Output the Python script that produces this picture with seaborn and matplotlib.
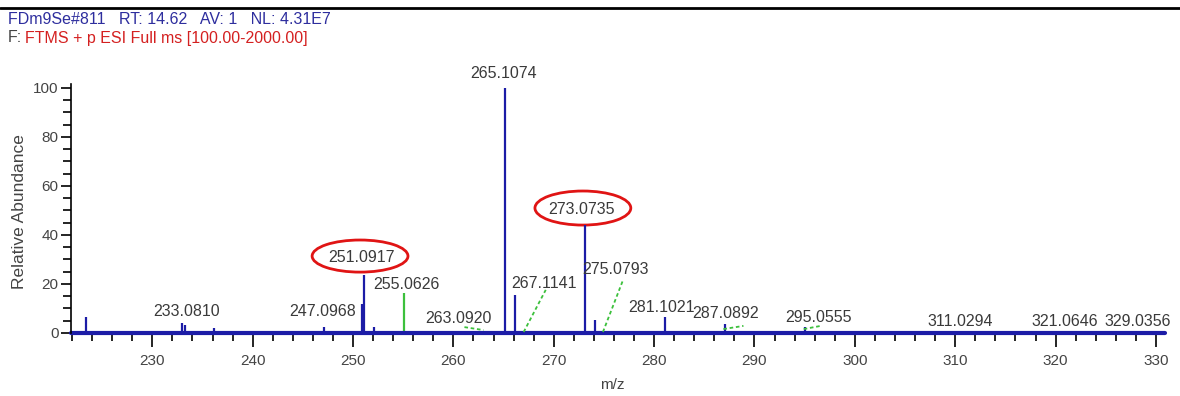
import matplotlib
matplotlib.use("Agg")
import matplotlib.pyplot as plt
import numpy as np
import pandas as pd
import seaborn as sns
from matplotlib.patches import Ellipse
from matplotlib.lines import Line2D
from matplotlib.ticker import MultipleLocator

# peak list: m/z and relative abundance
mz = [223.4, 233.0, 233.3, 235.1, 236.1, 247.1, 250.0, 250.85, 251.0917, 252.1,
      255.0626, 263.09, 265.1074, 266.11, 267.11, 273.0735, 274.08, 275.08,
      281.1021, 287.0892, 289.0, 295.0555, 311.03, 321.06, 329.04]
abundance = [6.5, 4.0, 3.2, 1.0, 2.0, 2.6, 1.0, 12.0, 23.7, 2.6,
             16.3, 0.6, 100.0, 15.5, 0.5, 44.0, 5.5, 0.5,
             6.5, 3.5, 0.8, 2.6, 0.3, 0.3, 0.3]
kind = ["ms"] * 10 + ["ref"] + ["ms"] * 14

# annotated peaks
label_text = ["233.0810", "247.0968", "251.0917", "255.0626", "263.0920", "265.1074",
              "267.1141", "273.0735", "275.0793", "281.1021", "287.0892", "295.0555",
              "311.0294", "321.0646", "329.0356"]
label_x = [233.38, 246.95, 250.8, 255.37, 260.55, 265.02, 269.0, 272.8, 276.2,
           280.7, 287.1, 296.4, 310.5, 320.9, 328.2]
label_y = [8.6, 8.6, 31.0, 19.6, 6.1, 106.1, 20.4, 50.2, 26.1, 10.6, 8.0, 6.5,
           4.5, 4.5, 4.5]

# green leader lines (x0, y0, x1, y1)
leaders = [(261.1, 2.4, 263.0, 1.2), (267.0, 0.4, 269.2, 17.6), (274.9, 0.4, 276.9, 21.6),
           (286.9, 1.6, 288.9, 2.9), (294.9, 1.6, 296.6, 2.9)]

df = pd.DataFrame({"mz": mz, "abundance": abundance, "kind": kind})

sns.set_style("ticks")
plt.rcParams["font.family"] = ["Liberation Sans", "DejaVu Sans"]

fig = plt.figure(figsize=(11.8, 3.96), dpi=100)
ax = fig.add_axes([71 / 1180, 1 - 333 / 396, 1094 / 1180, 248.7 / 396])

navy = "#1c1ca6"
green = "#3cc03c"
for k, color in [("ms", navy), ("ref", green)]:
    sub = df[df["kind"] == k]
    ax.vlines(sub["mz"], 0, sub["abundance"], color=color, lw=1.6)

# thick baseline
sns.lineplot(x=[221.9, 330.9], y=[0, 0], color=navy, lw=3, ax=ax, clip_on=False)

for x0, y0, x1, y1 in leaders:
    ax.plot([x0, x1], [y0, y1], color=green, lw=1.3, ls=(0, (2, 1.5)), clip_on=False)

for t, x, y in zip(label_text, label_x, label_y):
    ax.text(x, y, t, ha="center", va="center", fontsize=11.5, color="#3a3a3a", clip_on=False)

for cx, cy, w, h in [(250.7, 31.4, 9.55, 13.1), (272.9, 51.0, 9.55, 13.9)]:
    ax.add_patch(Ellipse((cx, cy), w, h, fill=False, ec="#e01414", lw=2, clip_on=False))

ax.set_xlim(221.9, 330.9)
ax.set_ylim(0, 101.5)
ax.xaxis.set_major_locator(MultipleLocator(10))
ax.xaxis.set_minor_locator(MultipleLocator(2))
ax.yaxis.set_major_locator(MultipleLocator(20))
ax.yaxis.set_minor_locator(MultipleLocator(5))
ax.tick_params(axis="x", which="major", length=10, width=1.2, color="black",
               labelsize=11, labelcolor="#444444", pad=5)
ax.tick_params(axis="x", which="minor", length=6, width=1.2, color="black")
ax.tick_params(axis="y", which="major", length=7, width=1.2, color="black",
               labelsize=11, labelcolor="#444444", pad=2)
ax.tick_params(axis="y", which="minor", length=6, width=1.2, color="black")
ax.set_xlabel("")
ax.set_ylabel("")
sns.despine(ax=ax, top=True, right=True)
ax.spines["left"].set_color("black")
ax.spines["left"].set_linewidth(1.2)
ax.spines["bottom"].set_visible(False)

fig.text(20 / 1180, 1 - 212 / 396, "Relative Abundance", rotation=90, ha="center",
         va="center", fontsize=12.5, color="#444444")
fig.text(612 / 1180, 1 - 385 / 396, "m/z", ha="center", va="center",
         fontsize=11, color="#444444")

# header
fig.add_artist(Line2D([0, 1], [1 - 8 / 396, 1 - 8 / 396], color="black", lw=2))
fig.text(8 / 1180, 1 - 19 / 396, "FDm9Se#811   RT: 14.62   AV: 1   NL: 4.31E7",
         ha="left", va="center", fontsize=11.5, color="#2e2e9e")
fig.text(8 / 1180, 1 - 38 / 396, "F:", ha="left", va="center", fontsize=11.5, color="#444444")
fig.text(25 / 1180, 1 - 38 / 396, "FTMS + p ESI Full ms [100.00-2000.00]",
         ha="left", va="center", fontsize=11.5, color="#d42020")

fig.savefig("out.png", dpi=100)
